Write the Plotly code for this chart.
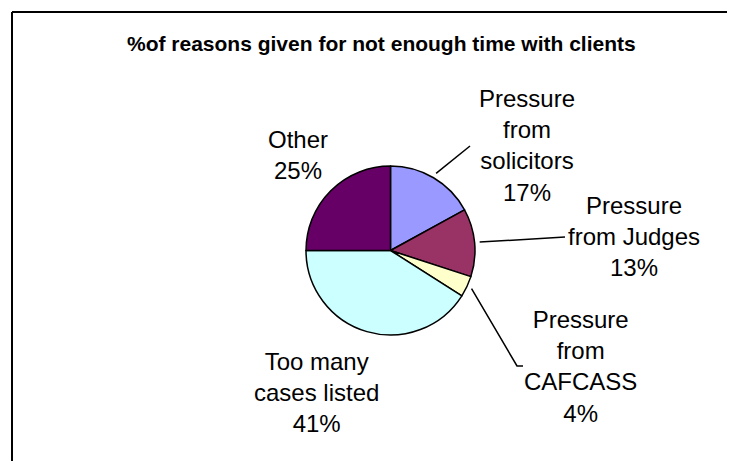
import math
import plotly.graph_objects as go

# ---- data ----
categories = ["Pressure from solicitors", "Pressure from Judges", "Pressure from CAFCASS",
              "Too many cases listed", "Other"]
label_lines = ["Pressure<br>from<br>solicitors", "Pressure<br>from Judges", "Pressure<br>from<br>CAFCASS",
               "Too many<br>cases listed", "Other"]
values = [17, 13, 4, 41, 25]
colors = ["#9999FF", "#993366", "#FFFFCC", "#CCFFFF", "#660066"]
title_text = "%of reasons given for not enough time with clients"

# ---- layout (page pixels; the page body has an 8px margin) ----
PAGE_W, PAGE_H, BODY = 735, 469, 8
W, H = PAGE_W - 2 * BODY, PAGE_H - 2 * BODY
CX, CY, R = 390.5, 250.5, 84.5
label_pos = [(527, 145), (634, 236), (580, 366), (316, 392), (298, 155)]
leader_end = [[(470, 146)], [(565, 237)], [(517, 366), (523, 366)], None, None]


def px(x):
    return (x - BODY) / W


def py(y):
    return 1 - (y - BODY) / H


fig = go.Figure(go.Pie(
    labels=categories, values=values, sort=False, direction="clockwise", rotation=0,
    marker=dict(colors=colors, line=dict(color="black", width=1.5)),
    textinfo="none", hoverinfo="label+percent", showlegend=False,
    domain=dict(x=[px(CX - R), px(CX + R)], y=[py(CY + R), py(CY - R)]),
))

total = sum(values)
annotations = [dict(text="<b>" + title_text + "</b>", x=px(381.5), y=py(44), xref="paper", yref="paper",
                    xanchor="center", yanchor="middle", showarrow=False,
                    font=dict(family="Liberation Sans, Arial", size=21, color="black"))]
shapes = [
    dict(type="line", xref="paper", yref="paper", x0=px(12), y0=py(12), x1=px(12), y1=0,
         line=dict(color="black", width=2)),
    dict(type="line", xref="paper", yref="paper", x0=px(12), y0=py(12), x1=1, y1=py(12),
         line=dict(color="black", width=2)),
]

cum = 0
for i, v in enumerate(values):
    pct = round(100 * v / total)
    lx, ly = label_pos[i]
    annotations.append(dict(text=f"{label_lines[i]}<br>{pct}%", x=px(lx), y=py(ly), xref="paper", yref="paper",
                            xanchor="center", yanchor="middle", showarrow=False, align="center",
                            font=dict(family="Liberation Sans, Arial", size=24, color="black")))
    mid = (cum + v / 2) / total * 2 * math.pi
    cum += v
    if leader_end[i]:
        sx = CX + 1.06 * R * math.sin(mid)
        sy = CY - 1.06 * R * math.cos(mid)
        pts = [(sx, sy)] + leader_end[i]
        path = "M " + " L ".join(f"{px(x)},{py(y)}" for x, y in pts)
        shapes.append(dict(type="path", xref="paper", yref="paper", path=path,
                           line=dict(color="black", width=1.5)))

fig.update_layout(width=W, height=H, margin=dict(l=0, r=0, t=0, b=0),
                  paper_bgcolor="white", plot_bgcolor="white",
                  annotations=annotations, shapes=shapes)
fig.write_html("out.html")
